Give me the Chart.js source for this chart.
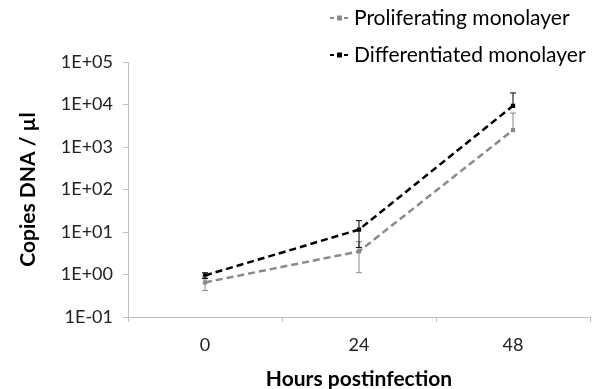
<!DOCTYPE html>
<html><head><meta charset="utf-8">
<script src="https://cdn.jsdelivr.net/npm/chart.js@4/dist/chart.umd.min.js"></script>
<style>html,body{margin:0;padding:0;background:#fff}#wrap{width:600px;height:389px;position:relative}</style>
</head><body><div id="wrap"><canvas id="c"></canvas></div>
<script>
const categories = ["0", "24", "48"];
const proliferating = [0.65, 3.5, 2500];
const proliferatingSD = [0.23, 2.4, 3800];
const differentiated = [0.95, 11.4, 9300];
const differentiatedSD = [0.15, 7.1, 9400];
const seriesNames = ["Proliferating monolayer", "Differentiated monolayer"];
const yTickValues = [0.1, 1, 10, 100, 1000, 10000, 100000];

const FONT = "Lato";
const GRAY = "#8a8a8a";

const errorBars = {
  id: 'errorBars',
  afterDatasetsDraw(chart) {
    const ctx = chart.ctx, y = chart.scales.y;
    chart.data.datasets.forEach((ds, i) => {
      const meta = chart.getDatasetMeta(i);
      ctx.save();
      ctx.strokeStyle = ds.borderColor; ctx.lineWidth = 1;
      meta.data.forEach((pt, j) => {
        const v = ds.data[j], sd = ds.sd[j];
        const yHi = y.getPixelForValue(v + sd);
        const lo = v - sd;
        const yLo = lo > 0 ? y.getPixelForValue(lo) : pt.y;
        ctx.beginPath();
        ctx.moveTo(pt.x, yHi); ctx.lineTo(pt.x, yLo);
        ctx.moveTo(pt.x - 3, yHi); ctx.lineTo(pt.x + 3, yHi);
        if (lo > 0) { ctx.moveTo(pt.x - 3, yLo); ctx.lineTo(pt.x + 3, yLo); }
        ctx.stroke();
      });
      ctx.restore();
    });
  }
};

const customLegend = {
  id: 'customLegend',
  afterDraw(chart) {
    const ctx = chart.ctx;
    const rows = [18, 55];
    chart.data.datasets.forEach((ds, i) => {
      const yy = rows[i];
      ctx.save();
      ctx.strokeStyle = ds.borderColor; ctx.lineWidth = 2;
      ctx.setLineDash([4, 3]);
      ctx.beginPath(); ctx.moveTo(330, yy); ctx.lineTo(350, yy); ctx.stroke();
      ctx.setLineDash([]);
      ctx.fillStyle = ds.borderColor;
      ctx.fillRect(337, yy - 2.5, 5, 5);
      ctx.fillStyle = "#000";
      ctx.font = "21px " + FONT;
      ctx.textBaseline = "middle";
      ctx.fillText(ds.label, 354, yy);
      ctx.restore();
    });
  }
};

new Chart(document.getElementById('c'), {
  type: 'line',
  data: {
    labels: categories,
    datasets: [
      { label: seriesNames[0], data: proliferating, sd: proliferatingSD,
        borderColor: GRAY, backgroundColor: GRAY, borderWidth: 2.5, borderDash: [7, 4],
        pointStyle: 'rect', pointRadius: 3, pointBorderWidth: 0, tension: 0 },
      { label: seriesNames[1], data: differentiated, sd: differentiatedSD,
        borderColor: "#000", backgroundColor: "#000", borderWidth: 2.5, borderDash: [7, 4],
        pointStyle: 'rect', pointRadius: 3, pointBorderWidth: 0, tension: 0 }
    ]
  },
  options: {
    responsive: true, maintainAspectRatio: false, animation: false,
    layout: { padding: { top: 62, right: 10, left: 12, bottom: 0 } },
    plugins: { legend: { display: false }, tooltip: { enabled: false } },
    scales: {
      x: {
        type: 'category', offset: true,
        grid: { display: true, offset: true, drawOnChartArea: false, tickLength: 5, color: "#bfbfbf" },
        border: { color: "#bfbfbf" },
        ticks: { color: "#222", font: { family: FONT, size: 18 }, padding: 12 },
        title: { display: true, text: "Hours postinfection", color: "#000",
                 font: { family: FONT, size: 21, weight: 'bold' }, padding: { top: 8, bottom: -3 } },
        afterFit(s) { s.height = 72; }
      },
      y: {
        type: 'logarithmic', min: 0.1, max: 100000,
        afterBuildTicks(s) { s.ticks = yTickValues.map(v => ({ value: v })); },
        grid: { display: true, drawOnChartArea: false, tickLength: 5, color: "#bfbfbf" },
        border: { color: "#bfbfbf" },
        ticks: {
          color: "#222", font: { family: FONT, size: 18 }, padding: 10,
          callback(v) { const e = Math.round(Math.log10(v)); return "1E" + (e < 0 ? "-" : "+") + String(Math.abs(e)).padStart(2, "0"); }
        },
        title: { display: true, text: "Copies DNA / µl", color: "#000",
                 font: { family: FONT, size: 21, weight: 'bold' } },
        afterFit(s) { s.width = 116; }
      }
    }
  },
  plugins: [errorBars, customLegend]
});
</script></body></html>
